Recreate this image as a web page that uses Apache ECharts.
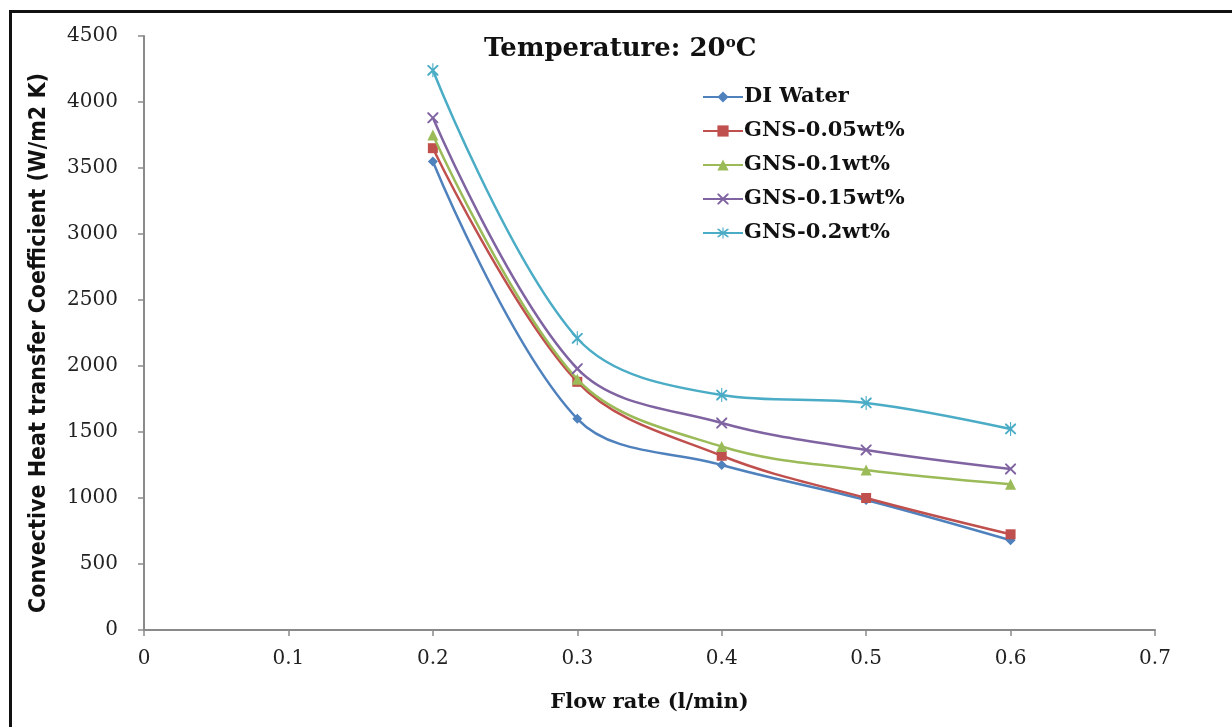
<!DOCTYPE html>
<html>
<head>
<meta charset="utf-8">
<script src="https://cdn.jsdelivr.net/npm/echarts@6/dist/echarts.min.js"></script>
<style>
html,body{margin:0;padding:0;background:#fff;}
#frame{position:absolute;left:9px;top:10px;width:1223px;height:717px;border-left:3px solid #111;border-top:3px solid #111;box-sizing:border-box;}
#chart{position:absolute;left:0;top:0;width:1232px;height:727px;}
</style>
</head>
<body>
<div id="frame"></div>
<div id="chart"></div>
<script>
const flowRates = [0.2, 0.3, 0.4, 0.5, 0.6];
const seriesNames = ['DI Water', 'GNS-0.05wt%', 'GNS-0.1wt%', 'GNS-0.15wt%', 'GNS-0.2wt%'];
const diWater = [3550, 1600, 1250, 985, 680];
const gns005 = [3650, 1880, 1320, 1000, 725];
const gns01 = [3750, 1900, 1390, 1212, 1105];
const gns015 = [3880, 1980, 1568, 1364, 1220];
const gns02 = [4240, 2210, 1780, 1720, 1523];
const xTicks = [0, 0.1, 0.2, 0.3, 0.4, 0.5, 0.6, 0.7];
const yTicks = [0, 500, 1000, 1500, 2000, 2500, 3000, 3500, 4000, 4500];

const allValues = [diWater, gns005, gns01, gns015, gns02];
const colors = ['#4F81BD', '#C0504D', '#9BBB59', '#8064A2', '#4BACC6'];
const xPath = 'path://M0,0 L2.5,0 L10,7.5 L17.5,0 L20,0 L20,2.5 L12.5,10 L20,17.5 L20,20 L17.5,20 L10,12.5 L2.5,20 L0,20 L0,17.5 L7.5,10 L0,2.5 Z';
const starPath = 'path://M0,0 L2.5,0 L10,7.5 L17.5,0 L20,0 L20,2.5 L12.5,10 L20,17.5 L20,20 L17.5,20 L10,12.5 L2.5,20 L0,20 L0,17.5 L7.5,10 L0,2.5 Z M9,-3 L11,-3 L11,23 L9,23 Z';
const symbols = ['diamond', 'rect', 'triangle', xPath, starPath];
const symbolSizes = [10, 10, 11, 11, [11, 14]];

const chart = echarts.init(document.getElementById('chart'));
const serif = "'DejaVu Serif', serif";
chart.setOption({
  animation: false,
  backgroundColor: 'transparent',
  title: {
    text: 'Temperature: 20{sup|o}C',
    left: 479,
    top: 31,
    textStyle: {
      fontFamily: serif, fontWeight: 'bold', fontSize: 26, color: '#111',
      rich: { sup: { fontFamily: serif, fontWeight: 'bold', fontSize: 15, verticalAlign: 'top', padding: [0, 0, 11, 0], color: '#111' } }
    }
  },
  legend: {
    orient: 'vertical',
    left: 697,
    top: 81,
    itemWidth: 40,
    itemHeight: 14,
    itemGap: 12,
    textStyle: { fontFamily: serif, fontWeight: 'bold', fontSize: 21, lineHeight: 22, color: '#111', padding: [0, 0, 0, -4] },
    data: seriesNames
  },
  grid: { left: 144, right: 77, top: 36, bottom: 97, containLabel: false },
  xAxis: {
    type: 'value',
    min: xTicks[0],
    max: xTicks[xTicks.length - 1],
    interval: 0.1,
    name: 'Flow rate (l/min)',
    nameLocation: 'middle',
    nameGap: 62,
    nameTextStyle: { fontFamily: serif, fontWeight: 'bold', fontSize: 21, color: '#111' },
    axisLine: { lineStyle: { color: '#8a8a8a', width: 2 } },
    axisTick: { show: true, length: 6, lineStyle: { color: '#8a8a8a', width: 1.5 } },
    axisLabel: { fontFamily: serif, fontSize: 20, color: '#222', margin: 19, formatter: v => String(Math.round(v * 10) / 10) },
    splitLine: { show: false }
  },
  yAxis: {
    type: 'value',
    min: yTicks[0],
    max: yTicks[yTicks.length - 1],
    interval: 500,
    name: 'Convective Heat transfer Coefficient (W/m2 K)',
    nameLocation: 'middle',
    nameGap: 93,
    nameTextStyle: { fontFamily: "'DejaVu Sans Condensed', 'Liberation Sans Narrow', sans-serif", fontWeight: 'bold', fontSize: 23, color: '#111', padding: [0, 20, 0, 0] },
    axisLine: { show: true, lineStyle: { color: '#8a8a8a', width: 2 } },
    axisTick: { show: true, length: 6, lineStyle: { color: '#8a8a8a', width: 1.5 } },
    axisLabel: { fontFamily: serif, fontSize: 20, color: '#222', margin: 26, formatter: v => String(v) },
    splitLine: { show: false }
  },
  series: seriesNames.map((name, i) => ({
    name: name,
    type: 'line',
    smooth: 0.35,
    data: flowRates.map((x, j) => [x, allValues[i][j]]),
    symbol: symbols[i],
    symbolSize: symbolSizes[i],
    showAllSymbol: true,
    lineStyle: { color: colors[i], width: 2.5 },
    itemStyle: { color: colors[i] },
    z: 2 + i
  }))
});
</script>
</body>
</html>
